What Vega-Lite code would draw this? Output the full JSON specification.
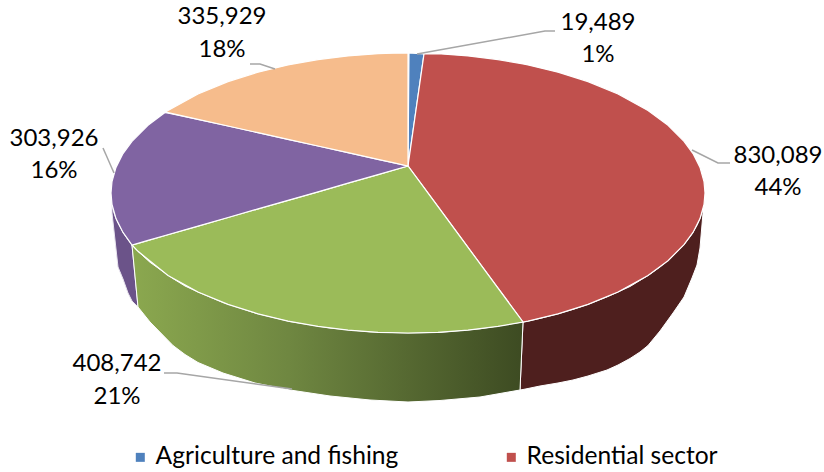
{
  "$schema": "https://vega.github.io/schema/vega-lite/v6.json",
  "width": 824,
  "height": 472,
  "padding": 0,
  "autosize": {"type": "none"},
  "background": "white",
  "config": {"view": {"stroke": null}},
  "datasets": {
    "sideRed": [
      {"x":520,"y":390,"y2":390},{"x":523,"y":322,"y2":389.5},{"x":528,"y":321.1,"y2":388.5},{"x":540,"y":318.4,"y2":386},
      {"x":558,"y":313.8,"y2":383},{"x":573,"y":309.4,"y2":380},{"x":588,"y":304.4,"y2":376},{"x":607,"y":296.9,"y2":370},
      {"x":618,"y":292,"y2":365},{"x":630,"y":286.5,"y2":358.5},{"x":640,"y":280.4,"y2":352},{"x":648,"y":275.5,"y2":345.5},{"x":660,"y":267,"y2":331},
      {"x":673,"y":256,"y2":313},{"x":684,"y":244.7,"y2":297},{"x":692,"y":234,"y2":278},{"x":697,"y":225.3,"y2":265},{"x":700,"y":218.6,"y2":248},{"x":703,"y":209,"y2":213}
    ],
    "sideGreen": [
      {"x":132,"y":245,"y2":245},{"x":138,"y":251.3,"y2":307},{"x":150,"y":262.3,"y2":322},{"x":173,"y":278.6,"y2":345.5},{"x":185,"y":286,"y2":354.5},
      {"x":198,"y":292,"y2":362.5},{"x":223,"y":302.5,"y2":373},{"x":255,"y":313,"y2":383},{"x":290,"y":321.5,"y2":390},
      {"x":330,"y":328,"y2":396},{"x":370,"y":331.8,"y2":400},{"x":408,"y":333,"y2":402},{"x":440,"y":332.3,"y2":400.5},
      {"x":480,"y":328.8,"y2":397},{"x":520,"y":322.4,"y2":390},{"x":523,"y":322,"y2":322}
    ],
    "sidePurple": [
      {"x":112,"y":204.5,"y2":213},{"x":114,"y":212.9,"y2":231},{"x":116,"y":218.6,"y2":249},{"x":118,"y":223,"y2":267},
      {"x":123,"y":232.4,"y2":279},{"x":128,"y":239.7,"y2":293},{"x":132,"y":245,"y2":301},{"x":138,"y":307,"y2":307}
    ],
    "faces": [
      {"sector":"Agriculture and fishing","x":408,"y":166,"y2":166},
      {"sector":"Agriculture and fishing","x":409,"y":53,"y2":159},
      {"sector":"Agriculture and fishing","x":424,"y":54,"y2":54},

      {"sector":"Residential sector","x":408,"y":166,"y2":166},
      {"sector":"Residential sector","x":424,"y":54,"y2":187.7},
      {"sector":"Residential sector","x":438,"y":53.7,"y2":206.7},
      {"sector":"Residential sector","x":468,"y":55.9,"y2":247.4},
      {"sector":"Residential sector","x":498,"y":59.6,"y2":288.1},
      {"sector":"Residential sector","x":523,"y":63.9,"y2":322},
      {"sector":"Residential sector","x":528,"y":64.9,"y2":321.1},
      {"sector":"Residential sector","x":558,"y":72.2,"y2":313.8},
      {"sector":"Residential sector","x":588,"y":81.6,"y2":304.4},
      {"sector":"Residential sector","x":618,"y":94,"y2":292},
      {"sector":"Residential sector","x":648,"y":110.5,"y2":275.5},
      {"sector":"Residential sector","x":668,"y":125.3,"y2":260.7},
      {"sector":"Residential sector","x":684,"y":141.3,"y2":244.7},
      {"sector":"Residential sector","x":693,"y":153.6,"y2":232.4},
      {"sector":"Residential sector","x":700,"y":167.4,"y2":218.6},
      {"sector":"Residential sector","x":704,"y":181.5,"y2":204.5},
      {"sector":"Residential sector","x":705,"y":193,"y2":193},

      {"sector":"Industry","x":132,"y":245,"y2":245},
      {"sector":"Industry","x":138,"y":243.3,"y2":251.3},
      {"sector":"Industry","x":168,"y":234.7,"y2":275.5},
      {"sector":"Industry","x":198,"y":226.1,"y2":292},
      {"sector":"Industry","x":228,"y":217.5,"y2":304.4},
      {"sector":"Industry","x":258,"y":208.9,"y2":313.8},
      {"sector":"Industry","x":288,"y":200.3,"y2":321.1},
      {"sector":"Industry","x":318,"y":191.8,"y2":326.4},
      {"sector":"Industry","x":348,"y":183.2,"y2":330.1},
      {"sector":"Industry","x":378,"y":174.6,"y2":332.3},
      {"sector":"Industry","x":408,"y":166,"y2":333},
      {"sector":"Industry","x":438,"y":206.7,"y2":332.3},
      {"sector":"Industry","x":468,"y":247.4,"y2":330.1},
      {"sector":"Industry","x":498,"y":288.1,"y2":326.4},
      {"sector":"Industry","x":523,"y":322,"y2":322},

      {"sector":"Transport","x":111,"y":193,"y2":193},
      {"sector":"Transport","x":112,"y":181.5,"y2":204.5},
      {"sector":"Transport","x":116,"y":167.4,"y2":218.6},
      {"sector":"Transport","x":123,"y":153.6,"y2":232.4},
      {"sector":"Transport","x":132,"y":141.3,"y2":245},
      {"sector":"Transport","x":148,"y":125.3,"y2":240.4},
      {"sector":"Transport","x":165,"y":112.5,"y2":235.5},
      {"sector":"Transport","x":198,"y":119.3,"y2":226.1},
      {"sector":"Transport","x":228,"y":126,"y2":217.5},
      {"sector":"Transport","x":258,"y":132.7,"y2":208.9},
      {"sector":"Transport","x":288,"y":139.3,"y2":200.3},
      {"sector":"Transport","x":318,"y":146,"y2":191.8},
      {"sector":"Transport","x":348,"y":152.7,"y2":183.2},
      {"sector":"Transport","x":378,"y":159.3,"y2":174.6},
      {"sector":"Transport","x":408,"y":166,"y2":166},

      {"sector":"Services","x":165,"y":112.5,"y2":112.5},
      {"sector":"Services","x":168,"y":110.5,"y2":112.7},
      {"sector":"Services","x":198,"y":94,"y2":119.3},
      {"sector":"Services","x":228,"y":81.6,"y2":126},
      {"sector":"Services","x":258,"y":72.2,"y2":132.7},
      {"sector":"Services","x":288,"y":64.9,"y2":139.3},
      {"sector":"Services","x":318,"y":59.6,"y2":146},
      {"sector":"Services","x":348,"y":55.9,"y2":152.7},
      {"sector":"Services","x":378,"y":53.7,"y2":159.3},
      {"sector":"Services","x":393,"y":53.2,"y2":162.7},
      {"sector":"Services","x":408,"y":53,"y2":166}
    ],
    "leaders": [
      {"sector":"Agriculture and fishing","n":1,"x":417,"y":54},
      {"sector":"Agriculture and fishing","n":2,"x":545,"y":31},
      {"sector":"Agriculture and fishing","n":3,"x":555,"y":31},
      {"sector":"Residential sector","n":1,"x":692,"y":150},
      {"sector":"Residential sector","n":2,"x":718,"y":163},
      {"sector":"Residential sector","n":3,"x":730,"y":163},
      {"sector":"Industry","n":1,"x":164,"y":373},
      {"sector":"Industry","n":2,"x":177,"y":373},
      {"sector":"Industry","n":3,"x":292,"y":389},
      {"sector":"Transport","n":1,"x":103,"y":148},
      {"sector":"Transport","n":2,"x":114,"y":173},
      {"sector":"Services","n":1,"x":250,"y":64},
      {"sector":"Services","n":2,"x":260,"y":64},
      {"sector":"Services","n":3,"x":275,"y":69}
    ],
    "labels": [
      {"sector":"Agriculture and fishing","value":19489,"share":0.01,"x":598,"y":23,"y2":55},
      {"sector":"Residential sector","value":830089,"share":0.44,"x":778,"y":156,"y2":188},
      {"sector":"Industry","value":408742,"share":0.21,"x":117,"y":364,"y2":397},
      {"sector":"Transport","value":303926,"share":0.16,"x":54,"y":139,"y2":171},
      {"sector":"Services","value":335929,"share":0.18,"x":222,"y":17,"y2":50}
    ]
  },
  "layer": [
    {
      "data": {"name": "sidePurple"},
      "mark": {"type": "area", "color": "#6b5389", "stroke": "#e8e4ee", "strokeWidth": 1},
      "encoding": {
        "x": {"field": "x", "type": "quantitative", "scale": {"domain": [0, 824], "nice": false, "zero": false}, "axis": null},
        "y": {"field": "y", "type": "quantitative", "scale": {"domain": [472, 0], "nice": false, "zero": false}, "axis": null},
        "y2": {"field": "y2"}
      }
    },
    {
      "data": {"name": "sideRed"},
      "mark": {"type": "area", "color": "#4e1f1e", "stroke": "white", "strokeWidth": 1},
      "encoding": {
        "x": {"field": "x", "type": "quantitative", "axis": null},
        "y": {"field": "y", "type": "quantitative", "axis": null},
        "y2": {"field": "y2"}
      }
    },
    {
      "data": {"name": "sideGreen"},
      "mark": {
        "type": "area",
        "stroke": "white",
        "strokeWidth": 1,
        "color": {
          "gradient": "linear",
          "x1": 0, "y1": 0, "x2": 1, "y2": 0,
          "stops": [
            {"offset": 0, "color": "#8ba84f"},
            {"offset": 0.4, "color": "#6f8741"},
            {"offset": 1, "color": "#3d4b22"}
          ]
        }
      },
      "encoding": {
        "x": {"field": "x", "type": "quantitative", "axis": null},
        "y": {"field": "y", "type": "quantitative", "axis": null},
        "y2": {"field": "y2"}
      }
    },
    {
      "data": {"name": "faces"},
      "mark": {"type": "area", "stroke": "white", "strokeWidth": 1.2},
      "encoding": {
        "x": {"field": "x", "type": "quantitative", "axis": null},
        "y": {"field": "y", "type": "quantitative", "axis": null},
        "y2": {"field": "y2"},
        "color": {
          "field": "sector",
          "type": "nominal",
          "scale": {
            "domain": ["Agriculture and fishing", "Residential sector", "Industry", "Transport", "Services"],
            "range": ["#4f81bd", "#c0504d", "#9bbb59", "#8064a2", "#f6bc8c"]
          },
          "legend": {
            "values": ["Agriculture and fishing", "Residential sector"],
            "orient": "none",
            "legendX": 128,
            "legendY": 445,
            "direction": "horizontal",
            "columns": 2,
            "title": null,
            "symbolType": "square",
            "symbolSize": 81,
            "symbolStrokeWidth": 0,
            "labelFont": "Lato",
            "labelFontSize": 24.6,
            "labelColor": "#000000",
            "labelLimit": 400,
            "labelOffset": 3,
            "columnPadding": 100,
            "padding": 0
          }
        }
      }
    },
    {
      "data": {"name": "leaders"},
      "mark": {"type": "line", "color": "#a6a6a6", "strokeWidth": 1.5},
      "encoding": {
        "x": {"field": "x", "type": "quantitative", "axis": null},
        "y": {"field": "y", "type": "quantitative", "axis": null},
        "detail": {"field": "sector"},
        "order": {"field": "n", "type": "quantitative"}
      }
    },
    {
      "data": {"name": "labels"},
      "mark": {"type": "text", "font": "Lato", "fontSize": 24, "color": "#000000", "align": "center", "baseline": "middle"},
      "encoding": {
        "x": {"field": "x", "type": "quantitative", "axis": null},
        "y": {"field": "y", "type": "quantitative", "axis": null},
        "text": {"field": "value", "type": "quantitative", "format": ","}
      }
    },
    {
      "data": {"name": "labels"},
      "mark": {"type": "text", "font": "Lato", "fontSize": 24, "color": "#000000", "align": "center", "baseline": "middle"},
      "encoding": {
        "x": {"field": "x", "type": "quantitative", "axis": null},
        "y": {"field": "y2", "type": "quantitative", "axis": null},
        "text": {"field": "share", "type": "quantitative", "format": ".0%"}
      }
    }
  ]
}
